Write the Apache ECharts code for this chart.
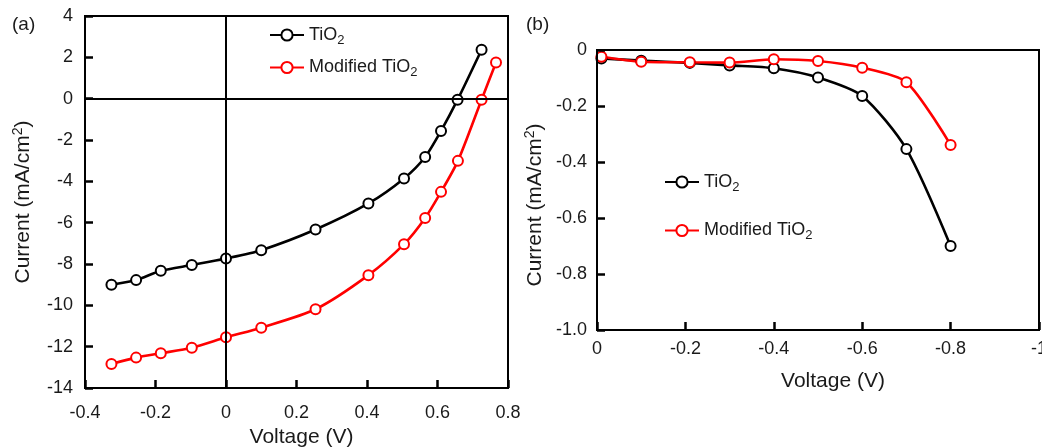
<!DOCTYPE html>
<html>
<head>
<meta charset="utf-8">
<script src="https://cdn.jsdelivr.net/npm/echarts@6/dist/echarts.min.js"></script>
<style>html,body{margin:0;padding:0;background:#fff;overflow:hidden;}#c{width:1042px;height:447px;}</style>
</head>
<body>
<div id="c"></div>
<script>
// Panel (a) data
const voltA_TiO2 = [-0.325, -0.255, -0.185, -0.097, 0, 0.1, 0.254, 0.404, 0.505, 0.565, 0.61, 0.657, 0.725];
const curA_TiO2  = [-9.0, -8.78, -8.33, -8.05, -7.73, -7.33, -6.33, -5.07, -3.86, -2.82, -1.56, -0.05, 2.37];
const voltA_Mod  = [-0.325, -0.255, -0.185, -0.097, 0, 0.1, 0.254, 0.404, 0.505, 0.565, 0.61, 0.658, 0.725, 0.766];
const curA_Mod   = [-12.84, -12.53, -12.32, -12.05, -11.55, -11.08, -10.19, -8.54, -7.04, -5.77, -4.51, -3.01, -0.05, 1.75];
// Panel (b) data
const voltB      = [-0.01, -0.1, -0.21, -0.3, -0.4, -0.5, -0.6, -0.7, -0.8];
const curB_TiO2  = [-0.03, -0.038, -0.046, -0.055, -0.065, -0.098, -0.164, -0.354, -0.70];
const curB_Mod   = [-0.024, -0.042, -0.044, -0.045, -0.033, -0.039, -0.063, -0.115, -0.339];
// Axis settings
const xTicksA = {min: -0.4, max: 0.8, interval: 0.2};
const yTicksA = {min: -14, max: 4, interval: 2};
const xTicksB = {min: -1, max: 0, interval: 0.2};
const yTicksB = {min: -1, max: 0, interval: 0.2};
const seriesNames = ['TiO2', 'Modified TiO2'];
const colors = ['#000000', '#ff0000'];

const FONT = 'Liberation Sans, Arial, Helvetica, sans-serif';
const TXT = '#1a1a1a';
const zip = (xs, ys) => xs.map((x, i) => [x, ys[i]]);
const richSub = {
  t: {fontSize: 18, fontFamily: FONT, color: TXT},
  s: {fontSize: 13, fontFamily: FONT, color: TXT, padding: [10, 0, 0, 0]}
};
const richSup = {
  t: {fontSize: 21, fontFamily: FONT, color: TXT},
  s: {fontSize: 14, fontFamily: FONT, color: TXT, padding: [0, 0, 11, 0]}
};
const legendFmt = n => n === 'TiO2' ? '{t|TiO}{s|2}' : '{t|Modified TiO}{s|2}';
const yName = '{t|Current (mA/cm}{s|2}{t|)}';

function axisCommon(extra) {
  return Object.assign({
    type: 'value',
    z: 5,
    splitLine: {show: false},
    axisLine: {show: true, onZero: false, lineStyle: {color: '#000', width: 2}},
    axisTick: {show: true, inside: true, length: 8, lineStyle: {color: '#000', width: 2.5}},
    axisLabel: {color: TXT, fontSize: 18, fontFamily: FONT},
    nameLocation: 'middle',
    nameTextStyle: {color: TXT, fontSize: 21, fontFamily: FONT}
  }, extra);
}

function lineSeries(name, idx, data, color, extra) {
  return Object.assign({
    name: name,
    type: 'line',
    xAxisIndex: idx,
    yAxisIndex: idx,
    data: data,
    smooth: 0.25,
    symbol: 'emptyCircle',
    symbolSize: 10,
    color: color,
    lineStyle: {color: color, width: 2.6},
    itemStyle: {color: color, borderColor: color, borderWidth: 1.6},
    emphasis: {disabled: true},
    animation: false
  }, extra || {});
}

const chart = echarts.init(document.getElementById('c'), null, {renderer: 'canvas'});
chart.setOption({
  backgroundColor: '#fff',
  animation: false,
  grid: [
    {left: 85, top: 16, right: 534, bottom: 59, show: true, borderColor: '#000', borderWidth: 2,
      containLabel: false, outerBoundsMode: 'none'},
    {left: 597, top: 50, right: 3, bottom: 117, show: true, borderColor: '#000', borderWidth: 2,
      containLabel: false, outerBoundsMode: 'none'}
  ],
  xAxis: [
    axisCommon({gridIndex: 0, min: xTicksA.min, max: xTicksA.max, interval: xTicksA.interval,
      name: 'Voltage (V)', nameGap: 36,
      nameTextStyle: {color: TXT, fontSize: 21, fontFamily: FONT, padding: [0, 0, 0, 10]},
      axisLabel: {color: TXT, fontSize: 18, fontFamily: FONT, margin: 16}}),
    axisCommon({gridIndex: 1, min: xTicksB.min, max: xTicksB.max, interval: xTicksB.interval, inverse: true,
      name: 'Voltage (V)', nameGap: 41,
      nameTextStyle: {color: TXT, fontSize: 21, fontFamily: FONT, padding: [0, 0, 0, 30]},
      axisLabel: {color: TXT, fontSize: 18, fontFamily: FONT, margin: 10}})
  ],
  yAxis: [
    axisCommon({gridIndex: 0, min: yTicksA.min, max: yTicksA.max, interval: yTicksA.interval,
      name: yName, nameGap: 49, nameTextStyle: {rich: richSup},
      axisLabel: {color: TXT, fontSize: 18, fontFamily: FONT, margin: 12, padding: [7, 0, 0, 0]}}),
    axisCommon({gridIndex: 1, min: yTicksB.min, max: yTicksB.max, interval: yTicksB.interval,
      name: yName, nameGap: 49, nameTextStyle: {rich: richSup, padding: [0, 30, 0, 0]},
      axisLabel: {color: TXT, fontSize: 18, fontFamily: FONT, margin: 10,
        formatter: v => (Math.abs(v) < 1e-9 ? '0' : v.toFixed(1))}})
  ],
  legend: [
    {data: seriesNames, orient: 'vertical', left: 264, top: 21, itemGap: 12, itemWidth: 34, itemHeight: 14,
      selectedMode: false, formatter: legendFmt, textStyle: {rich: richSub}},
    {data: seriesNames, orient: 'vertical', left: 659, top: 168, itemGap: 28, itemWidth: 34, itemHeight: 14,
      selectedMode: false, formatter: legendFmt, textStyle: {rich: richSub}}
  ],
  graphic: [
    {type: 'text', left: 12, top: 15, style: {text: '(a)', fontSize: 19, fontFamily: FONT, fill: TXT}},
    {type: 'text', left: 526, top: 15, style: {text: '(b)', fontSize: 19, fontFamily: FONT, fill: TXT}}
  ],
  series: [
    lineSeries(seriesNames[0], 0, zip(voltA_TiO2, curA_TiO2), colors[0], {
      markLine: {
        silent: true, symbol: 'none', animation: false,
        label: {show: false},
        lineStyle: {color: '#000', width: 2, type: 'solid'},
        emphasis: {disabled: true},
        data: [{yAxis: 0}, {xAxis: 0}]
      }
    }),
    lineSeries(seriesNames[1], 0, zip(voltA_Mod, curA_Mod), colors[1]),
    lineSeries(seriesNames[0], 1, zip(voltB, curB_TiO2), colors[0]),
    lineSeries(seriesNames[1], 1, zip(voltB, curB_Mod), colors[1])
  ]
});
</script>
</body>
</html>
